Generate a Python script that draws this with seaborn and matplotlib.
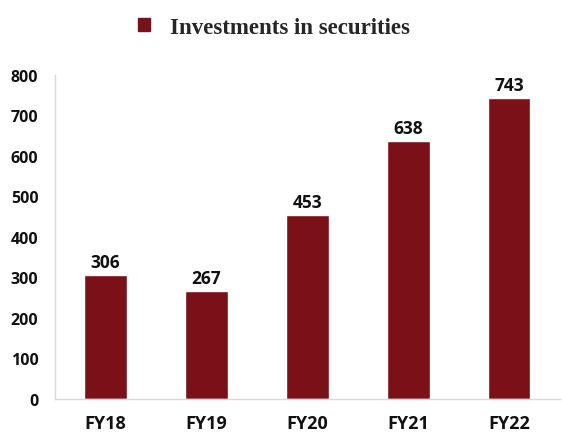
import numpy as np
import pandas as pd
import matplotlib
matplotlib.use("Agg")
import matplotlib.pyplot as plt
import seaborn as sns
from matplotlib.patches import Patch

# data
years = ["FY18", "FY19", "FY20", "FY21", "FY22"]
investments = [306, 267, 453, 638, 743]
series_name = "Investments in securities"
bar_color = "#7A1018"

sns.set_theme(style="white")
plt.rcParams['font.family'] = ['Open Sans', 'DejaVu Sans']

df = pd.DataFrame({"year": years, "value": investments})

fig = plt.figure(figsize=(5.62, 4.39), dpi=100)
ax = fig.add_axes([0.098, 0.089, 0.898, 0.738])

sns.barplot(data=df, x="year", y="value", color=bar_color, width=0.42,
            saturation=1, ax=ax)

# value labels on top of bars
for i, v in enumerate(investments):
    ax.text(i, v + 10, str(v), ha="center", va="bottom",
            fontsize=12.5, fontweight="bold", color="#111111")

ax.set_ylim(0, 800)
ax.set_yticks(range(0, 801, 100))
ax.set_xlim(-0.5, 4.5)
ax.set_xlabel("")
ax.set_ylabel("")
ax.tick_params(axis="both", length=0, colors="#111111")
ax.tick_params(axis="y", labelsize=11.5, pad=12)
ax.tick_params(axis="x", labelsize=13, pad=11)
for lbl in ax.get_xticklabels() + ax.get_yticklabels():
    lbl.set_fontweight("bold")

for s in ["top", "right"]:
    ax.spines[s].set_visible(False)
for s in ["left", "bottom"]:
    ax.spines[s].set_color("#d9d9d9")
    ax.spines[s].set_linewidth(1)

handle = Patch(facecolor=bar_color, edgecolor=bar_color)
fig.legend([handle], [series_name], loc="center", bbox_to_anchor=(0.488, 0.935),
           frameon=False, handlelength=0.5, handleheight=0.5, handletextpad=0.9,
           prop={"family": "Liberation Serif", "weight": "bold", "size": 16.5})

fig.savefig("out.png", dpi=100)
